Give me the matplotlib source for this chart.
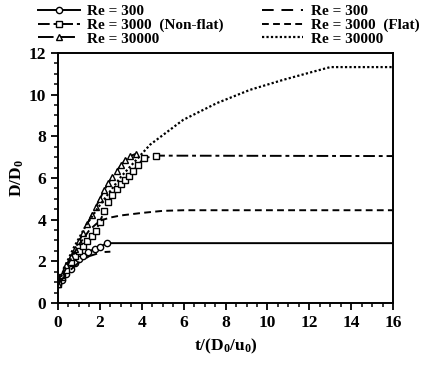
import matplotlib
matplotlib.use("Agg")
import matplotlib.pyplot as plt
from matplotlib.ticker import MultipleLocator

plt.rcParams['font.family'] = ['Liberation Serif', 'DejaVu Serif']
plt.rcParams['font.weight'] = 'bold'
plt.rcParams['mathtext.fontset'] = 'custom'
plt.rcParams['mathtext.rm'] = 'Liberation Serif:bold'
plt.rcParams['mathtext.it'] = 'Liberation Serif:bold'
plt.rcParams['mathtext.bf'] = 'Liberation Serif:bold'
plt.rcParams['mathtext.default'] = 'rm'

# Re = 300, non-flat (circles)
t300n = [0, 0.2, 0.4, 0.6, 0.8, 1.0, 1.2, 1.45, 1.75, 2.0, 2.35, 16]
d300n = [0.9, 1.1, 1.4, 1.65, 1.9, 2.1, 2.25, 2.45, 2.6, 2.7, 2.87, 2.87]
# Re = 3000, non-flat (squares)
t3000n = [0, 0.2, 0.4, 0.6, 0.8, 1.0, 1.2, 1.4, 1.6, 1.8, 2.0, 2.2, 2.4, 2.6,
          2.8, 3.0, 3.2, 3.4, 3.6, 3.8, 4.1, 4.7, 16]
d3000n = [0.9, 1.25, 1.6, 1.95, 2.25, 2.5, 2.75, 2.95, 3.2, 3.45, 3.9, 4.4,
          4.85, 5.2, 5.45, 5.7, 5.9, 6.1, 6.35, 6.6, 6.95, 7.07, 7.05]
# Re = 30000, non-flat (triangles)
t30000n = [0, 0.2, 0.4, 0.6, 0.8, 1.0, 1.2, 1.4, 1.6, 1.8, 2.0, 2.2, 2.4,
           2.6, 2.8, 3.0, 3.2, 3.45, 3.7]
d30000n = [0.9, 1.35, 1.8, 2.2, 2.6, 2.95, 3.35, 3.8, 4.2, 4.6, 5.0, 5.4,
           5.75, 6.05, 6.35, 6.6, 6.85, 7.05, 7.15]
# Re = 300, flat
t300f = [0, 0.5, 1.0, 1.5, 2.1, 2.5]
d300f = [0.9, 1.5, 1.95, 2.25, 2.44, 2.46]
# Re = 3000, flat
t3000f = [0, 0.5, 1.0, 1.5, 2.0, 2.5, 3.0, 4.0, 5.0, 6.0, 16]
d3000f = [0.9, 1.9, 2.8, 3.5, 3.95, 4.1, 4.2, 4.32, 4.42, 4.45, 4.45]
# Re = 30000, flat
t30000f = [0, 0.35, 0.75, 1.35, 2.0, 3.0, 4.4, 5.98, 7.58, 9.17, 10.76,
           12.0, 13.0, 16]
d30000f = [0.85, 1.8, 2.65, 3.75, 4.7, 6.05, 7.6, 8.79, 9.59, 10.23, 10.71,
           11.05, 11.32, 11.32]

labels = ['Re = 300', 'Re = 3000  (Non-flat)', 'Re = 30000',
          'Re = 300', 'Re = 3000  (Flat)', 'Re = 30000']

fig = plt.figure(figsize=(4.33, 3.65), dpi=100)
ax = fig.add_axes([0.134, 0.170, 0.774, 0.685])

lw = 1.4
ax.plot(t300n, d300n, color='black', lw=lw, ls='-', marker='o', ms=4.5,
        mfc='white', mew=1.0, markevery=list(range(len(t300n) - 1)),
        label=labels[0])
ax.plot(t3000n, d3000n, color='black', lw=lw, dashes=(6, 2, 2, 2),
        marker='s', ms=5, mfc='white', mew=1.0,
        markevery=list(range(len(t3000n) - 1)), label=labels[1])
ax.plot(t30000n, d30000n, color='black', lw=lw, dashes=(8, 3),
        marker='^', ms=5, mfc='white', mew=1.0, label=labels[2])
ax.plot(t300f, d300f, color='black', lw=lw, dashes=(6, 4), label=labels[3])
ax.plot(t3000f, d3000f, color='black', lw=lw, dashes=(3.5, 2.2),
        label=labels[4])
ax.plot(t30000f, d30000f, color='black', lw=1.6, dashes=(1, 1),
        label=labels[5])

ax.set_xlim(0, 16)
ax.set_ylim(0, 12)
ax.xaxis.set_major_locator(MultipleLocator(2))
ax.xaxis.set_minor_locator(MultipleLocator(0.5))
ax.yaxis.set_major_locator(MultipleLocator(2))
ax.yaxis.set_minor_locator(MultipleLocator(0.5))
ax.tick_params(which='major', direction='out', length=5, width=1.3,
               labelsize=12.5)
ax.tick_params(which='minor', direction='out', length=3, width=1.1)
for s in ax.spines.values():
    s.set_linewidth(1.4)
for lab in ax.get_xticklabels() + ax.get_yticklabels():
    lab.set_fontweight('bold')

ax.set_xlabel('t/(D$_0$/u$_0$)', fontsize=12.5, fontweight='bold')
ax.set_ylabel('D/D$_0$', fontsize=12.5, fontweight='bold', labelpad=2)

handles, labs = ax.get_legend_handles_labels()
fig.legend(handles, labs, ncol=2, loc='upper left',
           bbox_to_anchor=(0.078, 1.0), frameon=False,
           handlelength=2.7, labelspacing=0.0, columnspacing=2.5,
           handletextpad=0.5, borderaxespad=0.0, borderpad=0.3,
           prop={'weight': 'bold', 'size': 11})

fig.savefig('out.png', dpi=100)
